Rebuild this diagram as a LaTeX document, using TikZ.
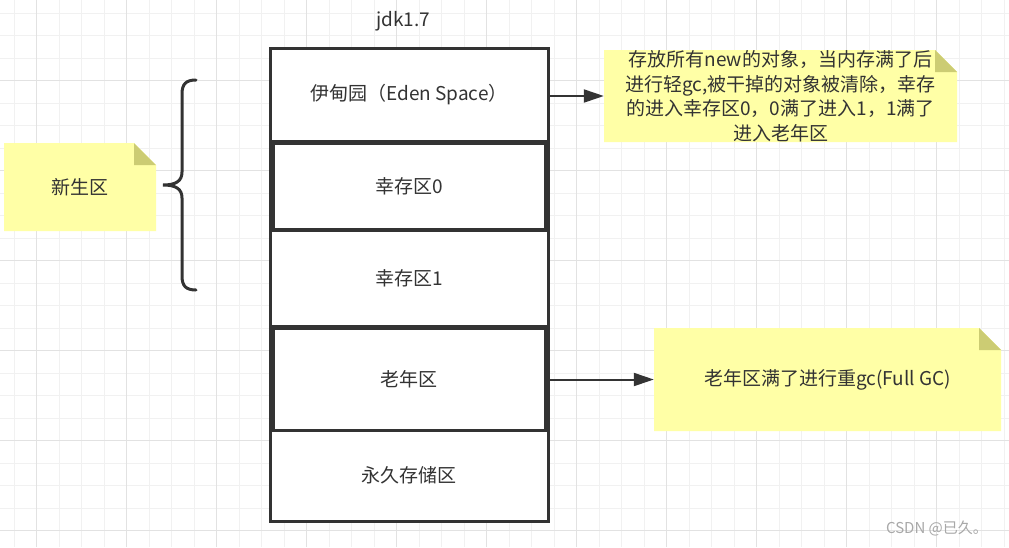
\documentclass[tikz,border=0pt]{standalone}
\usepackage{fontspec}
\setmainfont{Noto Sans CJK SC}
\usetikzlibrary{arrows.meta}
\definecolor{ink}{HTML}{333333}
\definecolor{notefill}{HTML}{FFFFA6}
\definecolor{foldfill}{HTML}{CCCC73}
\definecolor{gridminor}{HTML}{F1F1F1}
\definecolor{gridmajor}{HTML}{E2E2E2}
\definecolor{wmgray}{HTML}{A8A8A8}
\tikzset{
  every node/.style={text=ink, font=\fontsize{19}{24.5}\selectfont},
  region/.style={rectangle, draw=ink, line width=3pt, fill=white, inner sep=0pt},
  note/.style={rectangle, inner sep=0pt, align=center,
    path picture={
      \fill[notefill] (path picture bounding box.south west) -- (path picture bounding box.north west)
        -- ([xshift=-22pt]path picture bounding box.north east)
        -- ([yshift=-22pt]path picture bounding box.north east)
        -- (path picture bounding box.south east) -- cycle;
      \fill[foldfill] ([xshift=-22pt]path picture bounding box.north east)
        -- ([xshift=-22pt,yshift=-22pt]path picture bounding box.north east)
        -- ([yshift=-22pt]path picture bounding box.north east) -- cycle;
    }},
  conn/.style={draw=ink, line width=2pt, -{Triangle[length=20pt,width=13pt]}},
  bracestyle/.style={draw=ink, line width=3pt, line cap=round},
  minorline/.style={draw=gridminor, line width=1pt},
  majorline/.style={draw=gridmajor, line width=1pt},
}
\begin{document}
\begin{tikzpicture}[x=1pt, y=-1pt]
\useasboundingbox (0,0) rectangle (1009,547);
\fill[white] (0,0) rectangle (1009,547);
% grid
\foreach \i in {0,...,44} \draw[minorline] ({14.2+22.5*\i},0) -- ++(0,547);
\foreach \i in {0,...,23} \draw[minorline] (0,{13.2+22.5*\i}) -- ++(1009,0);
\foreach \i in {0,...,10} \draw[majorline] ({36.7+90*\i},0) -- ++(0,547);
\foreach \i in {0,...,5} \draw[majorline] (0,{80.7+90*\i}) -- ++(1009,0);

% title
\node (title) at (403,21) {jdk1.7};

% heap regions
\node[region, minimum width=278pt, minimum height=93pt] (eden) at (409,94.5) {伊甸园（Eden Space）};
\node[region, minimum width=272pt, minimum height=86pt] (s0) at (409,186) {幸存区0};
\node[region, minimum width=278pt, minimum height=96pt] (s1) at (409,278) {幸存区1};
\node[region, minimum width=272pt, minimum height=102pt] (old) at (409,379) {老年区};
\node[region, minimum width=278pt, minimum height=91pt] (perm) at (409,475.5) {永久存储区};
\node[region, fill=none, minimum width=278pt, minimum height=473pt] (heap) at (409,284.5) {};

% notes
\node[note, minimum width=353pt, minimum height=92pt] (note1) at (780.5,96)
  {存放所有new的对象，当内存满了后\\进行轻gc,被干掉的对象被清除，幸存\\的进入幸存区0，0满了进入1，1满了\\进入老年区};
\node[note, minimum width=347pt, minimum height=103pt] (note2) at (827.5,379.5)
  {老年区满了进行重gc(Full GC)};
\node[note, minimum width=152pt, minimum height=88pt] (note3) at (80,187) {新生区};

% connectors
\draw[conn] (eden.east |- note1.west) -- (note1.west);
\draw[conn] (heap.east |- note2.west) -- (note2.west);

% brace
\draw[bracestyle] (196,80) .. controls (186,80) and (182,84) .. (182,94) -- (182,172)
  .. controls (182,181) and (176,185) .. (163,185)
  .. controls (176,185) and (182,189) .. (182,198) -- (182,276)
  .. controls (182,286) and (186,290) .. (196,290);

% watermark
\node[text=wmgray, font=\fontsize{15}{15}\selectfont] (wm) at (937,528) {CSDN @已久。};
\end{tikzpicture}
\end{document}
